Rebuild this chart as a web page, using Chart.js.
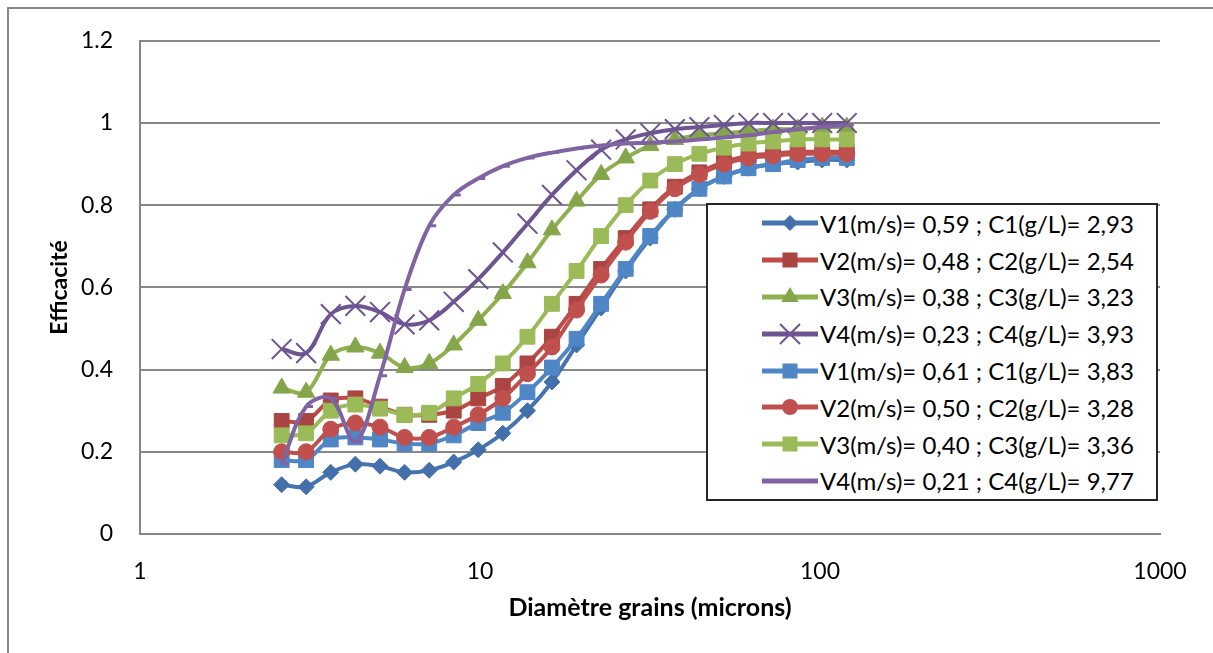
<!DOCTYPE html>
<html>
<head>
<meta charset="utf-8">
<script src="https://cdn.jsdelivr.net/npm/chart.js@4.4.1/dist/chart.umd.min.js"></script>
<style>
  body { margin: 0; background: #fff; }
  #wrap { position: relative; width: 1213px; height: 653px; overflow: hidden; font-family: Lato, "Open Sans", sans-serif; }
  .frame { position: absolute; left: 7px; top: 7px; width: 1300px; height: 800px; border: 2px solid #878787; box-sizing: border-box; }
  canvas { position: absolute; left: 0; top: 0; }
  #legend { position: absolute; left: 706px; top: 203px; width: 452px; border: 2px solid #25252d; background: #fff; box-sizing: border-box; }
  .row { height: 36.8px; display: flex; align-items: center; white-space: nowrap; font-size: 24px; color: #000; }
  .row svg { margin-left: 54px; margin-right: 2px; flex: none; }
</style>
</head>
<body>
<div id="wrap">
  <div class="frame"></div>
  <canvas id="efficaciteChart" width="1213" height="653"></canvas>
  <div id="legend"></div>
</div>
<script>
  // diamètres des grains (microns), axe log
  const diametres = [2.61, 3.08, 3.64, 4.30, 5.08, 6.00, 7.09, 8.37, 9.88, 11.67, 13.79, 16.28,
    19.23, 22.71, 26.82, 31.68, 37.41, 44.18, 52.18, 61.63, 72.78, 85.96, 101.5, 119.9];

  const effV1a = [0.12, 0.115, 0.15, 0.17, 0.165, 0.15, 0.155, 0.175, 0.205, 0.245, 0.30, 0.37,
    0.46, 0.55, 0.64, 0.72, 0.79, 0.84, 0.87, 0.89, 0.90, 0.905, 0.91, 0.91];
  const effV2a = [0.275, 0.275, 0.325, 0.33, 0.31, 0.29, 0.29, 0.30, 0.33, 0.36, 0.415, 0.48,
    0.56, 0.645, 0.72, 0.79, 0.845, 0.88, 0.905, 0.92, 0.925, 0.93, 0.93, 0.93];
  const effV3a = [0.355, 0.345, 0.435, 0.455, 0.44, 0.405, 0.415, 0.46, 0.52, 0.585, 0.66, 0.74,
    0.81, 0.875, 0.915, 0.945, 0.96, 0.97, 0.975, 0.98, 0.985, 0.985, 0.99, 0.99];
  const effV4a = [0.45, 0.44, 0.535, 0.555, 0.54, 0.51, 0.52, 0.565, 0.62, 0.685, 0.755, 0.825,
    0.885, 0.935, 0.96, 0.975, 0.985, 0.99, 0.995, 1.0, 1.0, 1.0, 1.0, 1.0];
  const effV1b = [0.18, 0.18, 0.23, 0.235, 0.23, 0.22, 0.22, 0.24, 0.27, 0.295, 0.345, 0.405,
    0.475, 0.56, 0.645, 0.725, 0.79, 0.84, 0.87, 0.89, 0.90, 0.91, 0.915, 0.915];
  const effV2b = [0.20, 0.20, 0.255, 0.27, 0.26, 0.235, 0.235, 0.26, 0.29, 0.33, 0.39, 0.455,
    0.545, 0.63, 0.71, 0.785, 0.84, 0.875, 0.90, 0.915, 0.92, 0.925, 0.925, 0.925];
  const effV3b = [0.24, 0.245, 0.30, 0.315, 0.305, 0.29, 0.295, 0.33, 0.365, 0.415, 0.48, 0.56,
    0.64, 0.725, 0.80, 0.86, 0.90, 0.925, 0.94, 0.95, 0.955, 0.96, 0.96, 0.96];
  const effV4b = [0.17, 0.31, 0.33, 0.225, 0.385, 0.595, 0.75, 0.825, 0.865, 0.895, 0.915, 0.928,
    0.938, 0.945, 0.95, 0.952, 0.955, 0.96, 0.965, 0.97, 0.978, 0.985, 0.99, 0.995];

  const legendLabels = [
    'V1(m/s)= 0,59 ; C1(g/L)= 2,93',
    'V2(m/s)= 0,48 ; C2(g/L)= 2,54',
    'V3(m/s)= 0,38 ; C3(g/L)= 3,23',
    'V4(m/s)= 0,23 ; C4(g/L)= 3,93',
    'V1(m/s)= 0,61 ; C1(g/L)= 3,83',
    'V2(m/s)= 0,50 ; C2(g/L)= 3,28',
    'V3(m/s)= 0,40 ; C3(g/L)= 3,36',
    'V4(m/s)= 0,21 ; C4(g/L)= 9,77'
  ];
  const xTicks = [1, 10, 100, 1000];
  const yTicks = [0, 0.2, 0.4, 0.6, 0.8, 1, 1.2];

  const series = [effV1a, effV2a, effV3a, effV4a, effV1b, effV2b, effV3b, effV4b];
  const styles = [
    { line: '#4674AE', mark: '#4370AA', shape: 'rectRot', r: 8 },
    { line: '#BE4B48', mark: '#AA4542', shape: 'rect', r: 10.5 },
    { line: '#8EB04F', mark: '#84A54A', shape: 'triangle', r: 10 },
    { line: '#6E5490', mark: '#6E5490', shape: 'crossRot', r: 14 },
    { line: '#4F86C6', mark: '#4F86C6', shape: 'rect', r: 10.5 },
    { line: '#C0504D', mark: '#C0504D', shape: 'circle', r: 8 },
    { line: '#9BBB59', mark: '#9BBB59', shape: 'rect', r: 10.5 },
    { line: '#8064A2', mark: '#8064A2', shape: 'dash', r: 7 }
  ];

  const datasets = series.map((vals, i) => {
    const st = styles[i];
    const thin = st.shape === 'crossRot' || st.shape === 'dash';
    return {
      label: legendLabels[i],
      data: vals.map((v, k) => ({ x: diametres[k], y: v })),
      borderColor: st.line,
      borderWidth: 4,
      tension: 0.35,
      pointStyle: st.shape,
      pointRadius: st.r,
      pointBackgroundColor: st.mark,
      pointBorderColor: st.mark,
      pointBorderWidth: thin ? (st.shape === 'dash' ? 3 : 2) : 1,
      order: 7 - i,
      fill: false
    };
  });

  const tickFont = { family: 'Lato', size: 23 };

  new Chart(document.getElementById('efficaciteChart').getContext('2d'), {
    type: 'line',
    data: { datasets: datasets },
    options: {
      responsive: false,
      animation: false,
      layout: { padding: { left: 0, top: 32, right: 53, bottom: 0 } },
      plugins: { legend: { display: false }, tooltip: { enabled: false } },
      scales: {
        x: {
          type: 'logarithmic',
          min: 1,
          max: 1000,
          afterBuildTicks: (s) => { s.ticks = xTicks.map(v => ({ value: v })); },
          afterFit: (s) => { s.height = 119; },
          grid: { display: false, drawTicks: false },
          border: { color: '#878787', width: 2 },
          ticks: { font: tickFont, color: '#000', padding: 24, maxRotation: 0, autoSkip: false,
            callback: (v) => String(v) },
          title: { display: true, text: 'Diamètre grains (microns)', color: '#000',
            font: { family: 'Lato', size: 25, weight: 'bold' },
            padding: { top: 0, bottom: 30 } }
        },
        y: {
          min: 0,
          max: 1.2,
          afterBuildTicks: (s) => { s.ticks = yTicks.map(v => ({ value: v })); },
          afterFit: (s) => { s.width = 140; },
          grid: { color: '#888888', lineWidth: 2, drawTicks: false },
          border: { color: '#878787', width: 2 },
          ticks: { font: tickFont, color: '#000', padding: 27,
            callback: (v) => String(Math.round(v * 10) / 10) },
          title: { display: true, text: 'Efficacité', color: '#000',
            font: { family: 'Lato', size: 23, weight: 'bold' },
            padding: { top: 46, bottom: 0 } }
        }
      }
    }
  });

  // légende façon Excel : trait + marqueur
  function markerSvg(st) {
    const c = 28, m = 18;
    const line = `<line x1="0" y1="${m}" x2="56" y2="${m}" stroke="${st.line}" stroke-width="5" stroke-linecap="round"/>`;
    let mk = '';
    if (st.shape === 'rectRot') {
      mk = `<polygon points="${c},${m - 8} ${c + 8},${m} ${c},${m + 8} ${c - 8},${m}" fill="${st.mark}"/>`;
    } else if (st.shape === 'rect') {
      mk = `<rect x="${c - 7.5}" y="${m - 7.5}" width="15" height="15" fill="${st.mark}"/>`;
    } else if (st.shape === 'triangle') {
      mk = `<polygon points="${c},${m - 10} ${c + 8.7},${m + 5} ${c - 8.7},${m + 5}" fill="${st.mark}"/>`;
    } else if (st.shape === 'circle') {
      mk = `<circle cx="${c}" cy="${m}" r="8" fill="${st.mark}"/>`;
    } else if (st.shape === 'crossRot') {
      mk = `<path d="M${c - 10} ${m - 10} L${c + 10} ${m + 10} M${c + 10} ${m - 10} L${c - 10} ${m + 10}" stroke="${st.mark}" stroke-width="2"/>`;
    }
    return `<svg width="56" height="36" viewBox="0 0 56 36">${line}${mk}</svg>`;
  }

  const legendEl = document.getElementById('legend');
  legendEl.innerHTML = legendLabels.map((txt, i) =>
    `<div class="row">${markerSvg(styles[i])}<span>${txt}</span></div>`).join('');
</script>
</body>
</html>
